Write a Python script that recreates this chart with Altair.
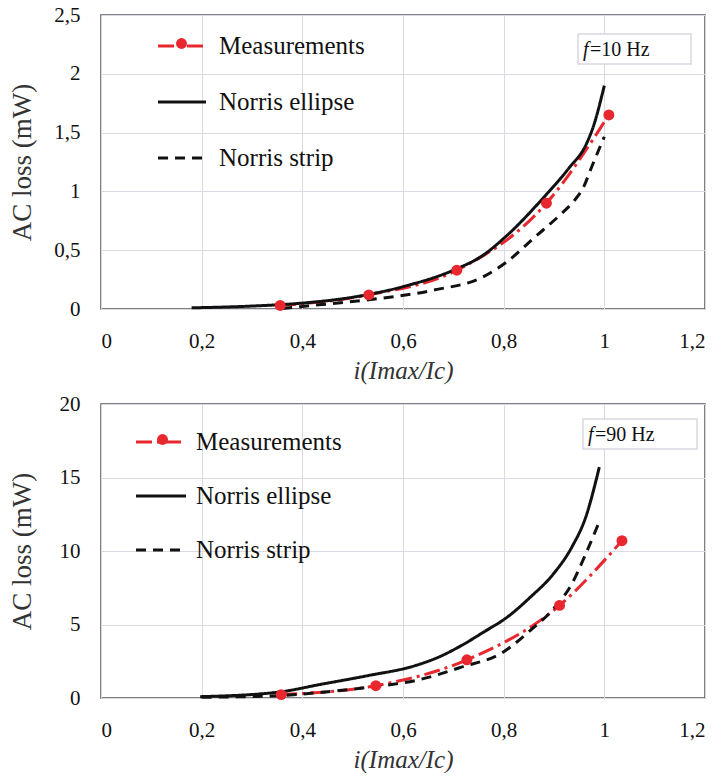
import altair as alt
import pandas as pd

# ---------- data ----------
SERIES = ["Measurements", "Norris ellipse", "Norris strip"]

# f = 10 Hz
meas10_x = [0.356, 0.532, 0.707, 0.885, 1.009]
meas10_y = [0.03, 0.12, 0.33, 0.90, 1.65]
ell10_x = [0.18, 0.30, 0.40, 0.50, 0.60, 0.70, 0.76, 0.80, 0.886, 0.93, 0.965, 0.978, 1.00]
ell10_y = [0.01, 0.025, 0.05, 0.10, 0.19, 0.33, 0.46, 0.60, 0.98, 1.20, 1.41, 1.55, 1.90]
strip10_x = [0.36, 0.395, 0.528, 0.66, 0.76, 0.806, 0.859, 0.912, 0.94, 0.958, 0.975, 1.00]
strip10_y = [0.005, 0.02, 0.077, 0.16, 0.275, 0.40, 0.60, 0.80, 0.92, 1.03, 1.21, 1.465]

# f = 90 Hz
meas90_x = [0.358, 0.546, 0.727, 0.911, 1.035]
meas90_y = [0.23, 0.84, 2.6, 6.3, 10.7]
ell90_x = [0.197, 0.35, 0.44, 0.53, 0.624, 0.67, 0.716, 0.76, 0.807, 0.853, 0.899, 0.936, 0.963, 0.99]
ell90_y = [0.09, 0.39, 0.95, 1.52, 2.2, 2.77, 3.57, 4.48, 5.5, 6.86, 8.45, 10.3, 12.3, 15.7]
strip90_x = [0.2, 0.35, 0.44, 0.53, 0.624, 0.716, 0.798, 0.853, 0.899, 0.936, 0.963, 0.99]
strip90_y = [0.05, 0.16, 0.39, 0.73, 1.18, 2.1, 3.1, 4.6, 6.07, 7.8, 9.8, 12.0]

x_ticks = [0, 0.2, 0.4, 0.6, 0.8, 1.0, 1.2]
y10_ticks = [0, 0.5, 1.0, 1.5, 2.0, 2.5]
y90_ticks = [0, 5, 10, 15, 20]

RED = "#e8282e"
FONT = "Liberation Serif, Times New Roman, serif"


def lines_df(mx, my, ex, ey, sx, sy):
    rows = []
    for name, xs, ys in [(SERIES[0], mx, my), (SERIES[1], ex, ey), (SERIES[2], sx, sy)]:
        for i, (a, b) in enumerate(zip(xs, ys)):
            rows.append({"series": name, "x": a, "y": b, "order": i})
    return pd.DataFrame(rows)


def panel(mx, my, ex, ey, sx, sy, ymax, yticks, freq, leg, box):
    df = lines_df(mx, my, ex, ey, sx, sy)
    pts = pd.DataFrame({"x": mx, "y": my, "marker": ["Measurements"] * len(mx)})

    xenc = alt.X("x:Q", scale=alt.Scale(domain=[0, 1.2], nice=False),
                 axis=alt.Axis(values=x_ticks, title="i(Imax/Ic)", titleFontStyle="italic",
                               labelExpr="replace(format(datum.value, '~g'), '.', ',')"))
    yenc = alt.Y("y:Q", scale=alt.Scale(domain=[0, ymax], nice=False),
                 axis=alt.Axis(values=yticks, title="AC loss (mW)",
                               labelExpr="replace(format(datum.value, '~g'), '.', ',')"))

    line_legend = alt.Legend(
        title=None, orient="none", legendX=leg["x"], legendY=leg["y"],
        symbolType="stroke", symbolSize=leg["size"], symbolStrokeWidth=3.2,
        labelFont=FONT, labelFontSize=25, labelColor="#111111",
        rowPadding=leg["row"], labelOffset=leg["off"], padding=0, labelLimit=400,
    )

    lines = alt.Chart(df).mark_line(strokeWidth=3, interpolate="monotone").encode(
        x=xenc, y=yenc,
        color=alt.Color("series:N", scale=alt.Scale(domain=SERIES, range=[RED, "#111111", "#111111"]),
                        legend=line_legend),
        strokeDash=alt.StrokeDash("series:N",
                                  scale=alt.Scale(domain=SERIES, range=[[16, 5, 3, 5], [1, 0], [10, 7]]),
                                  legend=line_legend),
        order="order:Q",
    )

    points = alt.Chart(pts).mark_point(filled=True, size=120, opacity=1, color=RED).encode(
        x="x:Q", y="y:Q",
        shape=alt.Shape("marker:N", scale=alt.Scale(domain=["Measurements"], range=["circle"]),
                        legend=alt.Legend(title=None, orient="none", legendX=leg["cx"], legendY=leg["cy"],
                                          symbolSize=120, symbolFillColor=RED, symbolStrokeColor=RED,
                                          symbolStrokeWidth=0, labelExpr="''", padding=0)),
    )

    one = pd.DataFrame({"t": [freq]})
    rect = alt.Chart(one).mark_rect(fill="white", stroke="#d8d8e0", strokeWidth=1.5).encode(
        x=alt.value(box[0]), x2=alt.value(box[1]), y=alt.value(box[2]), y2=alt.value(box[3]))
    f_txt = alt.Chart(one).mark_text(text="f", font=FONT, fontSize=20, fontStyle="italic",
                                     align="left", baseline="middle", color="#111111").encode(
        x=alt.value(box[0] + 5), y=alt.value((box[2] + box[3]) / 2 + 1))
    hz_txt = alt.Chart(one).mark_text(font=FONT, fontSize=20, align="left", baseline="middle",
                                      color="#111111").encode(
        text="t:N", x=alt.value(box[0] + 12), y=alt.value((box[2] + box[3]) / 2 + 1))

    return alt.layer(lines, points, rect, f_txt, hz_txt).resolve_scale(
        color="independent", strokeDash="independent", shape="independent"
    ).resolve_legend(color="independent", strokeDash="independent", shape="independent").properties(
        width=604, height=294)


top = panel(meas10_x, meas10_y, ell10_x, ell10_y, strip10_x, strip10_y, 2.5, y10_ticks, "=10 Hz",
            leg={"x": 55, "y": 5, "size": 2300, "row": 17, "off": 11, "cx": 75, "cy": 23},
            box=(477, 590, 19, 49))
bottom = panel(meas90_x, meas90_y, ell90_x, ell90_y, strip90_x, strip90_y, 20, y90_ticks, "=90 Hz",
               leg={"x": 33, "y": 11, "size": 2500, "row": 14, "off": 8, "cx": 56, "cy": 30},
               box=(482, 596, 15, 45))

chart = alt.vconcat(top, bottom, spacing=8).resolve_scale(
    color="independent", strokeDash="independent", shape="independent"
).resolve_legend(color="independent", strokeDash="independent", shape="independent").properties(
    padding={"left": 7, "top": 3, "right": 0, "bottom": 0}
).configure_view(stroke="#555555", strokeWidth=1.5).configure_axis(
    labelFont=FONT, labelFontSize=21, labelColor="#111111", labelPadding=21,
    titleFont=FONT, titleFontWeight="normal", titleColor="#333333",
    grid=True, gridColor="#dadae2", gridWidth=1, ticks=False, domain=False,
).configure_axisY(minExtent=50, maxExtent=50, titlePadding=15, titleFontSize=27).configure_axisX(
    titlePadding=7, titleFontSize=25)

chart.save("out.html", embed_options={"renderer": "svg", "actions": False})
